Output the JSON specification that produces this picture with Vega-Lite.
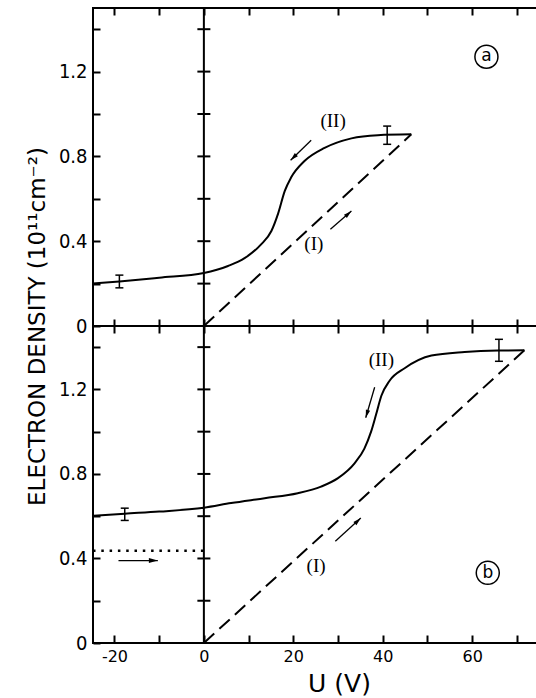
{
  "$schema": "https://vega.github.io/schema/vega-lite/v6.json",
  "padding": {"left": 25, "top": 6, "right": 0, "bottom": 0},
  "background": "white",
  "config": {
    "view": {"stroke": "black", "strokeWidth": 2},
    "axis": {"domain": false, "grid": false, "minExtent": 0, "tickColor": "black", "tickWidth": 2, "labelColor": "black", "titleColor": "black", "labelFont": "Liberation Sans Narrow, DejaVu Sans Condensed, sans-serif", "labelFontSize": 20, "titleFont": "DejaVu Sans", "titleFontWeight": "normal"}
  },
  "datasets": {
    "curveA": [
      {"u": -24.8, "n": 0.2}, {"u": -18.9, "n": 0.21}, {"u": -10, "n": 0.228}, {"u": 0, "n": 0.25},
      {"u": 5.4, "n": 0.283}, {"u": 9.1, "n": 0.32}, {"u": 12.8, "n": 0.385}, {"u": 15.1, "n": 0.448},
      {"u": 16.6, "n": 0.53}, {"u": 18.1, "n": 0.637}, {"u": 19.5, "n": 0.7}, {"u": 22.5, "n": 0.778},
      {"u": 27, "n": 0.84}, {"u": 33, "n": 0.885}, {"u": 38.9, "n": 0.9}, {"u": 46.4, "n": 0.904}
    ],
    "lineA": [{"u": 0, "n": 0}, {"u": 46.4, "n": 0.904}],
    "curveB": [
      {"u": -24.8, "n": 0.602}, {"u": -17.7, "n": 0.612}, {"u": -10, "n": 0.622}, {"u": 0, "n": 0.64},
      {"u": 6.1, "n": 0.662}, {"u": 13.6, "n": 0.685}, {"u": 21, "n": 0.709}, {"u": 26.2, "n": 0.74},
      {"u": 30, "n": 0.78}, {"u": 33.7, "n": 0.85}, {"u": 35.9, "n": 0.92}, {"u": 37.4, "n": 1.0},
      {"u": 38.5, "n": 1.08}, {"u": 39.7, "n": 1.17}, {"u": 41.5, "n": 1.24}, {"u": 44.9, "n": 1.3},
      {"u": 50.9, "n": 1.36}, {"u": 58.3, "n": 1.377}, {"u": 65.8, "n": 1.384}, {"u": 71.7, "n": 1.385}
    ],
    "lineB": [{"u": 0, "n": 0}, {"u": 71.7, "n": 1.385}],
    "zeroTicks": [{"u": 0, "n": 0.2}, {"u": 0, "n": 0.4}, {"u": 0, "n": 0.6}, {"u": 0, "n": 0.8}, {"u": 0, "n": 1.0}, {"u": 0, "n": 1.2}, {"u": 0, "n": 1.4}],
    "zeroLine": [{"u": 0}],
    "errA": [{"u": -18.9, "lo": 0.18, "hi": 0.24}, {"u": 41, "lo": 0.857, "hi": 0.943}],
    "errB": [{"u": -17.7, "lo": 0.58, "hi": 0.638}, {"u": 66, "lo": 1.333, "hi": 1.437}],
    "arrowsA": [{"u": 24.0, "n": 0.876, "u2": 19.4, "n2": 0.782}, {"u": 28.3, "n": 0.456, "u2": 33.0, "n2": 0.542}],
    "arrowsB": [{"u": 38.2, "n": 1.21, "u2": 36.2, "n2": 1.066}, {"u": 29.4, "n": 0.481, "u2": 35.1, "n2": 0.591}, {"u": -19.1, "n": 0.39, "u2": -10.3, "n2": 0.39}],
    "labelsA": [{"u": 28.9, "n": 0.967, "t": "(II)"}, {"u": 24.6, "n": 0.385, "t": "(I)"}],
    "labelsB": [{"u": 39.7, "n": 1.34, "t": "(II)"}, {"u": 25.1, "n": 0.363, "t": "(I)"}],
    "markA": [{"u": 63.2, "n": 1.27, "t": "a"}],
    "markB": [{"u": 63.5, "n": 0.332, "t": "b"}],
    "dotB": [{"u": -24.8, "n": 0.437}, {"u": 0, "n": 0.437}]
  },
  "spacing": 0,
  "bounds": "flush",
  "vconcat": [
    {
      "width": 452,
      "height": 318,
      "resolve": {"axis": {"x": "independent", "y": "independent"}},
      "layer": [
        {
          "data": {"name": "curveA"},
          "mark": {"type": "line", "interpolate": "monotone", "color": "black", "strokeWidth": 2},
          "encoding": {
            "x": {"field": "u", "type": "quantitative", "scale": {"domain": [-24.8, 76.3], "nice": false, "zero": false},
                  "axis": {"orient": "bottom", "values": [-20, -10, 0, 10, 20, 30, 40, 50, 60, 70], "tickSize": -7, "labels": false, "title": null}},
            "y": {"field": "n", "type": "quantitative", "scale": {"domain": [0, 1.5], "nice": false, "zero": false},
                  "axis": {"orient": "left", "values": [0, 0.2, 0.4, 0.6, 0.8, 1.0, 1.2, 1.4], "tickSize": -7, "labelPadding": 13,
                           "labelExpr": "round(datum.value*10) % 4 == 0 ? (datum.value == 0 ? '0' : format(datum.value, '.1f')) : ''",
                           "title": "ELECTRON DENSITY (10¹¹cm⁻²)", "titleFontSize": 23, "titleX": -56, "titleY": 318, "titleAngle": -90, "titleBaseline": "middle", "titleAlign": "center"}}
          }
        },
        {
          "data": {"name": "lineA"},
          "mark": {"type": "line", "color": "black", "strokeWidth": 2, "strokeDash": [14, 7]},
          "encoding": {
            "x": {"field": "u", "type": "quantitative", "scale": {"domain": [-24.8, 76.3], "nice": false, "zero": false},
                  "axis": {"orient": "top", "values": [-20, -10, 0, 10, 20, 30, 40, 50, 60, 70], "tickSize": -7, "labels": false, "title": null}},
            "y": {"field": "n", "type": "quantitative", "scale": {"domain": [0, 1.5], "nice": false, "zero": false},
                  "axis": {"orient": "right", "values": [0.2, 0.4, 0.6, 0.8, 1.0, 1.2, 1.4], "tickSize": -8, "labels": false, "title": null}}
          }
        },
        {
          "data": {"name": "zeroLine"},
          "mark": {"type": "rule", "color": "black", "strokeWidth": 2},
          "encoding": {"x": {"field": "u", "type": "quantitative", "scale": {"domain": [-24.8, 76.3], "nice": false, "zero": false}, "axis": null}}
        },
        {
          "data": {"name": "zeroTicks"},
          "mark": {"type": "tick", "orient": "horizontal", "color": "black", "size": 13, "thickness": 2, "opacity": 1},
          "encoding": {
            "x": {"field": "u", "type": "quantitative", "scale": {"domain": [-24.8, 76.3], "nice": false, "zero": false}, "axis": null},
            "y": {"field": "n", "type": "quantitative", "scale": {"domain": [0, 1.5], "nice": false, "zero": false}, "axis": null}
          }
        },
        {
          "data": {"name": "errA"},
          "mark": {"type": "rule", "color": "black", "strokeWidth": 1.5},
          "encoding": {
            "x": {"field": "u", "type": "quantitative", "scale": {"domain": [-24.8, 76.3], "nice": false, "zero": false}, "axis": null},
            "y": {"field": "lo", "type": "quantitative", "scale": {"domain": [0, 1.5], "nice": false, "zero": false}, "axis": null},
            "y2": {"field": "hi"}
          }
        },
        {
          "data": {"name": "errA"},
          "mark": {"type": "tick", "orient": "horizontal", "color": "black", "size": 8, "thickness": 1.5, "opacity": 1},
          "encoding": {
            "x": {"field": "u", "type": "quantitative", "scale": {"domain": [-24.8, 76.3], "nice": false, "zero": false}, "axis": null},
            "y": {"field": "lo", "type": "quantitative", "scale": {"domain": [0, 1.5], "nice": false, "zero": false}, "axis": null}
          }
        },
        {
          "data": {"name": "errA"},
          "mark": {"type": "tick", "orient": "horizontal", "color": "black", "size": 8, "thickness": 1.5, "opacity": 1},
          "encoding": {
            "x": {"field": "u", "type": "quantitative", "scale": {"domain": [-24.8, 76.3], "nice": false, "zero": false}, "axis": null},
            "y": {"field": "hi", "type": "quantitative", "scale": {"domain": [0, 1.5], "nice": false, "zero": false}, "axis": null}
          }
        },
        {
          "data": {"name": "arrowsA"},
          "mark": {"type": "rule", "color": "black", "strokeWidth": 1.3},
          "encoding": {
            "x": {"field": "u", "type": "quantitative", "scale": {"domain": [-24.8, 76.3], "nice": false, "zero": false}, "axis": null},
            "y": {"field": "n", "type": "quantitative", "scale": {"domain": [0, 1.5], "nice": false, "zero": false}, "axis": null},
            "x2": {"field": "u2"},
            "y2": {"field": "n2"}
          }
        },
        {
          "data": {"values": [{"u": 19.4, "n": 0.782}]},
          "mark": {"type": "point", "shape": "M0,0L0.55,2L-0.55,2Z", "filled": true, "color": "black", "opacity": 1, "size": 64, "angle": 225.8},
          "encoding": {
            "x": {"field": "u", "type": "quantitative", "scale": {"domain": [-24.8, 76.3], "nice": false, "zero": false}, "axis": null},
            "y": {"field": "n", "type": "quantitative", "scale": {"domain": [0, 1.5], "nice": false, "zero": false}, "axis": null}
          }
        },
        {
          "data": {"values": [{"u": 33.0, "n": 0.542}]},
          "mark": {"type": "point", "shape": "M0,0L0.55,2L-0.55,2Z", "filled": true, "color": "black", "opacity": 1, "size": 64, "angle": 48.4},
          "encoding": {
            "x": {"field": "u", "type": "quantitative", "scale": {"domain": [-24.8, 76.3], "nice": false, "zero": false}, "axis": null},
            "y": {"field": "n", "type": "quantitative", "scale": {"domain": [0, 1.5], "nice": false, "zero": false}, "axis": null}
          }
        },
        {
          "data": {"name": "labelsA"},
          "mark": {"type": "text", "font": "Liberation Serif", "fontSize": 19, "color": "black"},
          "encoding": {
            "x": {"field": "u", "type": "quantitative", "scale": {"domain": [-24.8, 76.3], "nice": false, "zero": false}, "axis": null},
            "y": {"field": "n", "type": "quantitative", "scale": {"domain": [0, 1.5], "nice": false, "zero": false}, "axis": null},
            "text": {"field": "t"}
          }
        },
        {
          "data": {"name": "markA"},
          "mark": {"type": "point", "shape": "circle", "filled": false, "color": "black", "strokeWidth": 1.5, "opacity": 1, "size": 530},
          "encoding": {
            "x": {"field": "u", "type": "quantitative", "scale": {"domain": [-24.8, 76.3], "nice": false, "zero": false}, "axis": null},
            "y": {"field": "n", "type": "quantitative", "scale": {"domain": [0, 1.5], "nice": false, "zero": false}, "axis": null}
          }
        },
        {
          "data": {"name": "markA"},
          "mark": {"type": "text", "font": "DejaVu Sans", "fontSize": 17, "color": "black", "dy": -1},
          "encoding": {
            "x": {"field": "u", "type": "quantitative", "scale": {"domain": [-24.8, 76.3], "nice": false, "zero": false}, "axis": null},
            "y": {"field": "n", "type": "quantitative", "scale": {"domain": [0, 1.5], "nice": false, "zero": false}, "axis": null},
            "text": {"field": "t"}
          }
        }
      ]
    },
    {
      "width": 452,
      "height": 317,
      "resolve": {"axis": {"x": "independent", "y": "independent"}},
      "layer": [
        {
          "data": {"name": "curveB"},
          "mark": {"type": "line", "interpolate": "monotone", "color": "black", "strokeWidth": 2},
          "encoding": {
            "x": {"field": "u", "type": "quantitative", "scale": {"domain": [-24.8, 76.3], "nice": false, "zero": false},
                  "axis": {"orient": "bottom", "values": [-20, -10, 0, 10, 20, 30, 40, 50, 60, 70], "tickSize": -8, "labelPadding": 13,
                           "labelFont": "DejaVu Sans", "labelFontSize": 16,
                           "labelExpr": "datum.value % 20 == 0 ? '' + datum.value : ''",
                           "title": "U (V)", "titleFontSize": 25, "titleX": 246, "titleY": 40, "titleBaseline": "middle", "titleAlign": "center"}},
            "y": {"field": "n", "type": "quantitative", "scale": {"domain": [0, 1.5], "nice": false, "zero": false},
                  "axis": {"orient": "left", "values": [0, 0.2, 0.4, 0.6, 0.8, 1.0, 1.2, 1.4], "tickSize": -7, "labelPadding": 13,
                           "labelExpr": "round(datum.value*10) % 4 == 0 ? (datum.value == 0 ? '0' : format(datum.value, '.1f')) : ''",
                           "title": null}}
          }
        },
        {
          "data": {"name": "lineB"},
          "mark": {"type": "line", "color": "black", "strokeWidth": 2, "strokeDash": [14, 7]},
          "encoding": {
            "x": {"field": "u", "type": "quantitative", "scale": {"domain": [-24.8, 76.3], "nice": false, "zero": false},
                  "axis": {"orient": "top", "values": [-20, -10, 0, 10, 20, 30, 40, 50, 60, 70], "tickSize": -7, "labels": false, "title": null}},
            "y": {"field": "n", "type": "quantitative", "scale": {"domain": [0, 1.5], "nice": false, "zero": false},
                  "axis": {"orient": "right", "values": [0.2, 0.4, 0.6, 0.8, 1.0, 1.2, 1.4], "tickSize": -8, "labels": false, "title": null}}
          }
        },
        {
          "data": {"name": "dotB"},
          "mark": {"type": "line", "color": "black", "strokeWidth": 2.5, "strokeDash": [2.5, 5.8]},
          "encoding": {
            "x": {"field": "u", "type": "quantitative", "scale": {"domain": [-24.8, 76.3], "nice": false, "zero": false}, "axis": null},
            "y": {"field": "n", "type": "quantitative", "scale": {"domain": [0, 1.5], "nice": false, "zero": false}, "axis": null}
          }
        },
        {
          "data": {"name": "zeroLine"},
          "mark": {"type": "rule", "color": "black", "strokeWidth": 2},
          "encoding": {"x": {"field": "u", "type": "quantitative", "scale": {"domain": [-24.8, 76.3], "nice": false, "zero": false}, "axis": null}}
        },
        {
          "data": {"name": "zeroTicks"},
          "mark": {"type": "tick", "orient": "horizontal", "color": "black", "size": 13, "thickness": 2, "opacity": 1},
          "encoding": {
            "x": {"field": "u", "type": "quantitative", "scale": {"domain": [-24.8, 76.3], "nice": false, "zero": false}, "axis": null},
            "y": {"field": "n", "type": "quantitative", "scale": {"domain": [0, 1.5], "nice": false, "zero": false}, "axis": null}
          }
        },
        {
          "data": {"name": "errB"},
          "mark": {"type": "rule", "color": "black", "strokeWidth": 1.5},
          "encoding": {
            "x": {"field": "u", "type": "quantitative", "scale": {"domain": [-24.8, 76.3], "nice": false, "zero": false}, "axis": null},
            "y": {"field": "lo", "type": "quantitative", "scale": {"domain": [0, 1.5], "nice": false, "zero": false}, "axis": null},
            "y2": {"field": "hi"}
          }
        },
        {
          "data": {"name": "errB"},
          "mark": {"type": "tick", "orient": "horizontal", "color": "black", "size": 8, "thickness": 1.5, "opacity": 1},
          "encoding": {
            "x": {"field": "u", "type": "quantitative", "scale": {"domain": [-24.8, 76.3], "nice": false, "zero": false}, "axis": null},
            "y": {"field": "lo", "type": "quantitative", "scale": {"domain": [0, 1.5], "nice": false, "zero": false}, "axis": null}
          }
        },
        {
          "data": {"name": "errB"},
          "mark": {"type": "tick", "orient": "horizontal", "color": "black", "size": 8, "thickness": 1.5, "opacity": 1},
          "encoding": {
            "x": {"field": "u", "type": "quantitative", "scale": {"domain": [-24.8, 76.3], "nice": false, "zero": false}, "axis": null},
            "y": {"field": "hi", "type": "quantitative", "scale": {"domain": [0, 1.5], "nice": false, "zero": false}, "axis": null}
          }
        },
        {
          "data": {"name": "arrowsB"},
          "mark": {"type": "rule", "color": "black", "strokeWidth": 1.3},
          "encoding": {
            "x": {"field": "u", "type": "quantitative", "scale": {"domain": [-24.8, 76.3], "nice": false, "zero": false}, "axis": null},
            "y": {"field": "n", "type": "quantitative", "scale": {"domain": [0, 1.5], "nice": false, "zero": false}, "axis": null},
            "x2": {"field": "u2"},
            "y2": {"field": "n2"}
          }
        },
        {
          "data": {"values": [{"u": 36.2, "n": 1.066}]},
          "mark": {"type": "point", "shape": "M0,0L0.55,2L-0.55,2Z", "filled": true, "color": "black", "opacity": 1, "size": 64, "angle": 196.7},
          "encoding": {
            "x": {"field": "u", "type": "quantitative", "scale": {"domain": [-24.8, 76.3], "nice": false, "zero": false}, "axis": null},
            "y": {"field": "n", "type": "quantitative", "scale": {"domain": [0, 1.5], "nice": false, "zero": false}, "axis": null}
          }
        },
        {
          "data": {"values": [{"u": 35.1, "n": 0.591}]},
          "mark": {"type": "point", "shape": "M0,0L0.55,2L-0.55,2Z", "filled": true, "color": "black", "opacity": 1, "size": 64, "angle": 47.5},
          "encoding": {
            "x": {"field": "u", "type": "quantitative", "scale": {"domain": [-24.8, 76.3], "nice": false, "zero": false}, "axis": null},
            "y": {"field": "n", "type": "quantitative", "scale": {"domain": [0, 1.5], "nice": false, "zero": false}, "axis": null}
          }
        },
        {
          "data": {"values": [{"u": -10.3, "n": 0.39}]},
          "mark": {"type": "point", "shape": "M0,0L0.55,2L-0.55,2Z", "filled": true, "color": "black", "opacity": 1, "size": 80, "angle": 90},
          "encoding": {
            "x": {"field": "u", "type": "quantitative", "scale": {"domain": [-24.8, 76.3], "nice": false, "zero": false}, "axis": null},
            "y": {"field": "n", "type": "quantitative", "scale": {"domain": [0, 1.5], "nice": false, "zero": false}, "axis": null}
          }
        },
        {
          "data": {"name": "labelsB"},
          "mark": {"type": "text", "font": "Liberation Serif", "fontSize": 19, "color": "black"},
          "encoding": {
            "x": {"field": "u", "type": "quantitative", "scale": {"domain": [-24.8, 76.3], "nice": false, "zero": false}, "axis": null},
            "y": {"field": "n", "type": "quantitative", "scale": {"domain": [0, 1.5], "nice": false, "zero": false}, "axis": null},
            "text": {"field": "t"}
          }
        },
        {
          "data": {"name": "markB"},
          "mark": {"type": "point", "shape": "circle", "filled": false, "color": "black", "strokeWidth": 1.5, "opacity": 1, "size": 530},
          "encoding": {
            "x": {"field": "u", "type": "quantitative", "scale": {"domain": [-24.8, 76.3], "nice": false, "zero": false}, "axis": null},
            "y": {"field": "n", "type": "quantitative", "scale": {"domain": [0, 1.5], "nice": false, "zero": false}, "axis": null}
          }
        },
        {
          "data": {"name": "markB"},
          "mark": {"type": "text", "font": "DejaVu Sans", "fontSize": 17, "color": "black", "dy": 0},
          "encoding": {
            "x": {"field": "u", "type": "quantitative", "scale": {"domain": [-24.8, 76.3], "nice": false, "zero": false}, "axis": null},
            "y": {"field": "n", "type": "quantitative", "scale": {"domain": [0, 1.5], "nice": false, "zero": false}, "axis": null},
            "text": {"field": "t"}
          }
        }
      ]
    }
  ]
}
